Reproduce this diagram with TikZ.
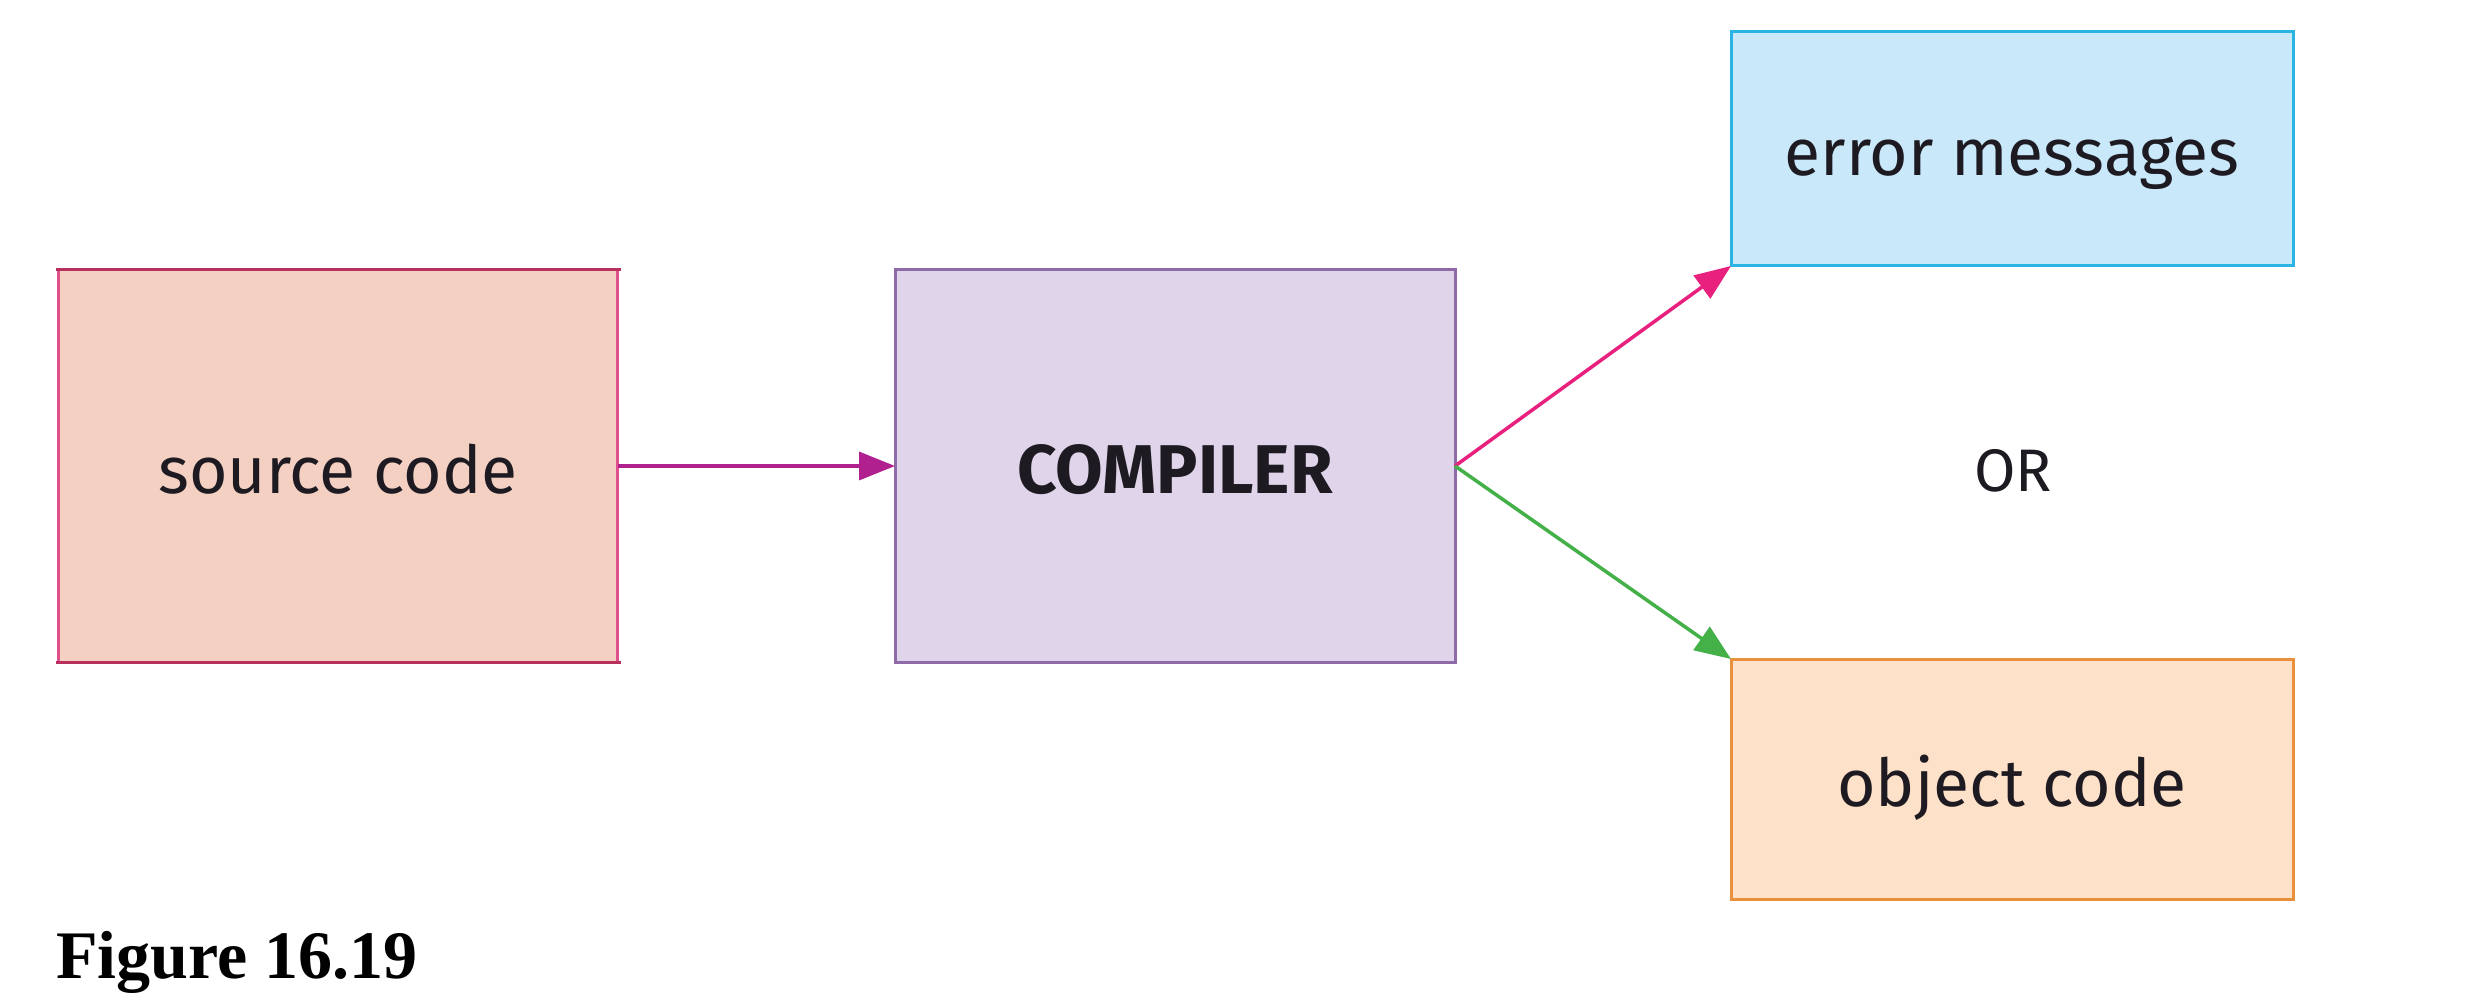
\documentclass[tikz,border=0pt]{standalone}
\usepackage{fontspec}
\setmainfont{Fira Sans}
\newfontfamily\capfont{Liberation Serif}
\usetikzlibrary{arrows.meta}
\definecolor{srcfill}{HTML}{F3D0C2}
\definecolor{srcedge}{HTML}{B8305E}
\definecolor{srcside}{HTML}{E0508A}
\definecolor{compfill}{HTML}{E0D4EA}
\definecolor{compedge}{HTML}{8E6AA8}
\definecolor{errfill}{HTML}{C9E8FA}
\definecolor{erredge}{HTML}{2AB4E4}
\definecolor{objfill}{HTML}{FDE1C9}
\definecolor{objedge}{HTML}{E8903C}
\definecolor{arrA}{HTML}{B0208E}
\definecolor{arrB}{HTML}{E8207E}
\definecolor{arrC}{HTML}{44B048}
\definecolor{txt}{HTML}{1E1A22}
\tikzset{
  lbl/.style={inner sep=0pt, text height=54pt, text depth=0pt,
    font=\fontsize{66}{74}\selectfont, text=txt},
  boxnode/.style={lbl, rectangle, line width=3pt, outer sep=0pt},
  conn/.style={line width=3.5pt, -{Triangle[length=36pt,width=28pt]}}
}
\begin{document}
\begin{tikzpicture}[x=1pt,y=-1pt]
\useasboundingbox[fill=white] (0,0) rectangle (2485,1000);
\node[boxnode, draw=srcside, fill=srcfill, minimum width=559pt, minimum height=393pt] (src) at (338,466) {source code};
\draw[srcedge, line width=3.5pt] ([xshift=-3pt]src.north west) -- ([xshift=3pt]src.north east);
\draw[srcedge, line width=3.5pt] ([xshift=-3pt]src.south west) -- ([xshift=3pt]src.south east);
\node[boxnode, draw=compedge, fill=compfill, minimum width=560pt, minimum height=393pt] (comp) at (1175,466) {\fontsize{69}{76}\selectfont\bfseries COMPILER};
\node[boxnode, draw=erredge, fill=errfill, minimum width=562pt, minimum height=234pt] (err) at (2012,149) {error messages};
\node[boxnode, draw=objedge, fill=objfill, minimum width=562pt, minimum height=240pt] (obj) at (2012,779) {object code};
\node[lbl, font=\fontsize{60}{68}\selectfont] (or) at (2013,464) {OR};
\draw[conn, arrA] (src.east) -- (comp.west);
\draw[conn, arrB] (comp.east) -- (err.south west);
\draw[conn, arrC] (comp.east) -- (obj.north west);
\node[anchor=base west, inner sep=0pt, font=\capfont\bfseries\fontsize{68}{76}\selectfont] (cap) at (56,978) {Figure 16.19};
\end{tikzpicture}
\end{document}
